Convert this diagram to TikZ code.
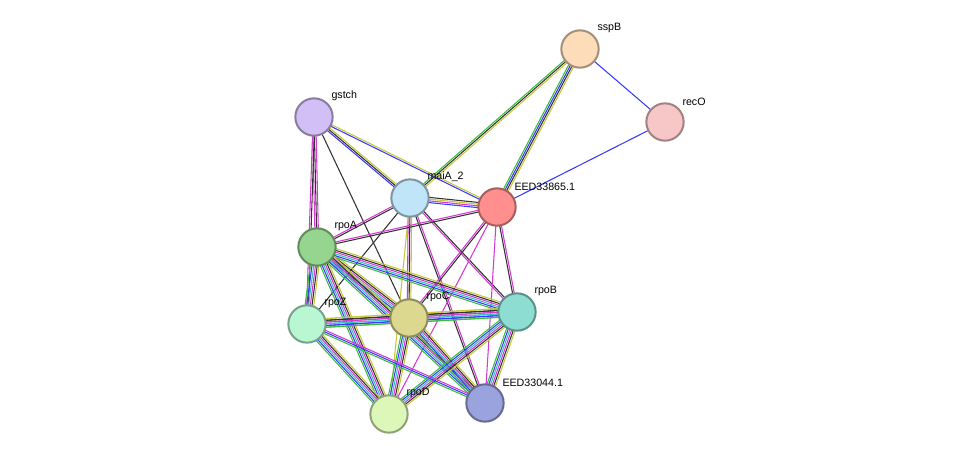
\documentclass[tikz,border=0pt]{standalone}
\usepackage{fontspec}
\setmainfont{Liberation Sans}
\usetikzlibrary{calc}
\definecolor{nb}{HTML}{3BBF3B}
\definecolor{co}{HTML}{3B3BFF}
\definecolor{ex}{HTML}{D43BD4}
\definecolor{cx}{HTML}{333333}
\definecolor{tm}{HTML}{C7C73B}
\definecolor{db}{HTML}{3BBFBF}
\definecolor{sspB}{HTML}{FCDCB9}
\definecolor{recO}{HTML}{F7C6C6}
\definecolor{gstch}{HTML}{D2BFF5}
\definecolor{maiA}{HTML}{C0E4F8}
\definecolor{eed65}{HTML}{FF8F8F}
\definecolor{rpoA}{HTML}{96D58F}
\definecolor{rpoZ}{HTML}{B9F7D3}
\definecolor{rpoC}{HTML}{DCD890}
\definecolor{rpoB}{HTML}{8DDDD3}
\definecolor{eed44}{HTML}{9BA3DE}
\definecolor{rpoD}{HTML}{DDF7B9}
\tikzset{
  prot/.style={circle,minimum size=28pt,inner sep=0pt,line width=1.5pt,fill=#1,draw=#1!65!black},
  lbl/.style={anchor=south west,inner sep=1pt,font=\fontsize{8}{9}\selectfont},
  lnk/.style={line width=0.8pt}
}
% parallel coloured links: from, to, count, colours
\newcommand\linkab[4]{%
  \foreach \c [count=\i] in {#4}{%
    \pgfmathsetmacro\off{(\i-(#3+1)/2)*1.3}
    \draw[lnk,\c] ($(#1)!\off pt!90:(#2)$) -- ($(#2)!\off pt!-90:(#1)$);
  }}
\begin{document}
\begin{tikzpicture}[x=0.75pt,y=-0.75pt]
  \useasboundingbox (0,0) rectangle (976,460);
  % positions
  \coordinate (sspB) at (580,49);
  \coordinate (recO) at (665,122);
  \coordinate (gstch) at (314,117);
  \coordinate (maiA) at (410,198);
  \coordinate (eed65) at (497,207);
  \coordinate (rpoA) at (317,247);
  \coordinate (rpoZ) at (307,324);
  \coordinate (rpoC) at (409,318);
  \coordinate (rpoB) at (517,312);
  \coordinate (eed44) at (485,403);
  \coordinate (rpoD) at (389,414);
  % links
  \linkab{sspB}{recO}{1}{co}
  \linkab{sspB}{maiA}{3}{nb,cx,tm}
  \linkab{sspB}{eed65}{4}{nb,co,cx,tm}
  \linkab{recO}{eed65}{1}{co}
  \linkab{gstch}{maiA}{3}{co,cx,tm}
  \linkab{gstch}{eed65}{2}{co,tm}
  \linkab{gstch}{rpoA}{3}{ex,cx,ex}
  \linkab{gstch}{rpoZ}{2}{ex,cx}
  \linkab{gstch}{rpoC}{1}{cx}
  \linkab{maiA}{eed65}{4}{co,ex,tm,cx}
  \linkab{maiA}{rpoA}{2}{ex,cx}
  \linkab{maiA}{rpoZ}{1}{cx}
  \linkab{maiA}{rpoC}{3}{ex,cx,tm}
  \linkab{maiA}{rpoB}{2}{ex,cx}
  \linkab{maiA}{eed44}{2}{cx,ex}
  \linkab{maiA}{rpoD}{1}{tm}
  \linkab{eed65}{rpoA}{2}{ex,cx}
  \linkab{eed65}{rpoC}{2}{ex,cx}
  \linkab{eed65}{rpoB}{2}{cx,ex}
  \linkab{eed65}{eed44}{1}{ex}
  \linkab{eed65}{rpoD}{1}{ex}
  \foreach \a/\b in {rpoA/rpoZ,rpoA/rpoC,rpoA/rpoB,rpoA/rpoD,rpoA/eed44,
      rpoZ/rpoC,rpoZ/rpoB,rpoZ/rpoD,rpoC/rpoB,rpoC/rpoD,rpoC/eed44,
      rpoB/rpoD,rpoB/eed44}
    {\linkab{\a}{\b}{6}{nb,co,db,ex,cx,tm}}
  \linkab{rpoZ}{eed44}{3}{nb,co,ex}
  % proteins
  \node[prot=sspB]  (nsspB) at (sspB) {};
  \node[prot=recO]  (nrecO) at (recO) {};
  \node[prot=gstch] (ngstch) at (gstch) {};
  \node[prot=maiA]  (nmaiA) at (maiA) {};
  \node[prot=eed65] (need65) at (eed65) {};
  \node[prot=rpoA]  (nrpoA) at (rpoA) {};
  \node[prot=rpoZ]  (nrpoZ) at (rpoZ) {};
  \node[prot=rpoC]  (nrpoC) at (rpoC) {};
  \node[prot=rpoB]  (nrpoB) at (rpoB) {};
  \node[prot=eed44] (need44) at (eed44) {};
  \node[prot=rpoD]  (nrpoD) at (rpoD) {};
  % labels
  \foreach \n/\t in {sspB/sspB,recO/recO,gstch/gstch,maiA/maiA\_2,eed65/EED33865.1,
      rpoA/rpoA,rpoZ/rpoZ,rpoC/rpoC,rpoB/rpoB,eed44/EED33044.1,rpoD/rpoD}
    \node[lbl] at ($(n\n.north east)+(2,-1)$) {\t};
\end{tikzpicture}
\end{document}
